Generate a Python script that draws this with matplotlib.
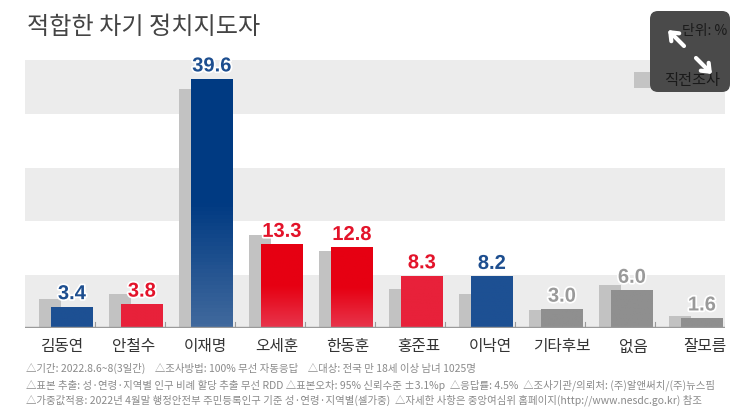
import numpy as np
import matplotlib
matplotlib.use("Agg")
import matplotlib.pyplot as plt
import matplotlib.patheffects as pe
from matplotlib.patches import FancyBboxPatch, Rectangle
from matplotlib.colors import LinearSegmentedColormap

plt.rcParams['font.family'] = ['Noto Sans CJK KR', 'DejaVu Sans']

categories = ['김동연', '안철수', '이재명', '오세훈', '한동훈', '홍준표', '이낙연', '기타후보', '없음', '잘모름']
current = [3.4, 3.8, 39.6, 13.3, 12.8, 8.3, 8.2, 3.0, 6.0, 1.6]
previous = [4.6, 5.4, 38.0, 14.8, 12.2, 6.2, 5.4, 2.9, 6.8, 1.9]
groups = ['blue', 'red', 'blue', 'red', 'red', 'red', 'blue', 'gray', 'gray', 'gray']
title = '적합한 차기 정치지도자'
notes = [
    '△기간: 2022.8.6~8(3일간)    △조사방법: 100% 무선 자동응답    △대상: 전국 만 18세 이상 남녀 1025명',
    '△표본 추출: 성·연령·지역별 인구 비례 할당 추출 무선 RDD △표본오차: 95% 신뢰수준 ±3.1%p  △응답률: 4.5%  △조사기관/의뢰처: (주)알앤써치/(주)뉴스핌',
    '△가중값적용: 2022년 4월말 행정안전부 주민등록인구 기준 성·연령·지역별(셀가중)  △자세한 사항은 중앙여심위 홈페이지(http://www.nesdc.go.kr) 참조',
]
band_edges = [(0, 8.5), (17, 25.5), (34, 42.6)]

W, H = 750, 408
fig = plt.figure(figsize=(W / 100, H / 100), dpi=100, facecolor='white')
ax = fig.add_axes([25 / W, (H - 328) / H, 700 / W, 268 / H])
ax.axis('off')

for lo, hi in band_edges:
    ax.axhspan(lo, hi, color='#ececec', lw=0, zorder=0)

shades = {
    'blue': ('#1d5093', '#41699d', '#003a82'),
    'red': ('#e8213a', '#e8354c', '#e60012'),
    'gray': ('#8f8f8f', '#9c9c9c', '#878787'),
}
BW = 0.6
for i, (c, p, g) in enumerate(zip(current, previous, groups)):
    ax.bar(i - 0.314, p, width=0.314, color='#c2c2c2', zorder=1)
    bar = ax.bar(i, c, width=BW, color='none', zorder=2)[0]
    small, low, high = shades[g]
    stops = [high, high, low] if c > 10 else [small, small]
    cm = LinearSegmentedColormap.from_list('g', stops)
    im = ax.imshow(np.linspace(0, 1, 64).reshape(-1, 1), cmap=cm, aspect='auto',
                   extent=(i - BW / 2, i + BW / 2, 0, c), zorder=2, origin='upper')
    im.set_clip_path(bar)
    col = {'blue': '#1d4e8f', 'red': '#e3132a', 'gray': '#9a9a9a'}[g]
    ax.text(i, c + 0.55, f'{c:.1f}', ha='center', va='bottom', fontsize=14.5, color=col,
            fontweight='bold', family='Liberation Sans', zorder=4,
            path_effects=[pe.withStroke(linewidth=2.5, foreground='white')])
ax.set_xlim(-0.67, 9.33)
ax.set_ylim(0, 42.6)

ax.axhline(0.1, color='#9a9a9a', lw=1, zorder=3)
for i in range(len(categories)):
    ax.plot([i + 0.33, i + 0.33], [0.1, 1.0], color='#9a9a9a', lw=0.8, zorder=0.8)

ov = fig.add_axes([0, 0, 1, 1], facecolor='none')
ov.set_xlim(0, W)
ov.set_ylim(H, 0)
ov.axis('off')
for xp, name in zip(np.linspace(62, 705, len(categories)), categories):
    ov.text(xp, 347, name, ha='center', va='center', fontsize=11.3, color='#333333')
ov.text(27, 27, title, fontsize=17.4, color='#444444', va='center', ha='left', fontweight='light')
for n, yy in zip(notes, [368, 385, 400]):
    ov.text(26, yy, n, fontsize=7.5, color='#8a8a8a', va='center', ha='left')

ov.add_patch(Rectangle((634, 72), 22, 16, color='#c4c4c4', lw=0))
ov.add_patch(FancyBboxPatch((656, 17), 68, 69, boxstyle='round,pad=6,rounding_size=8',
                            fc='#4a4a4a', ec='none', zorder=5))
ov.text(727, 31, '단위: %', fontsize=10, color='#1a1a1a', ha='right', va='center', zorder=6)
ov.text(720, 80, '직전조사', fontsize=11, color='#1a1a1a', ha='right', va='center', zorder=6)
for (a, b) in [((684, 46), (668, 30)), ((696, 58), (712, 74))]:
    ov.annotate('', xy=b, xytext=a, zorder=7,
                arrowprops=dict(arrowstyle='->,head_length=0.5,head_width=0.4', color='white', lw=3,
                                shrinkA=0, shrinkB=0))

fig.savefig('out.png', dpi=100)
